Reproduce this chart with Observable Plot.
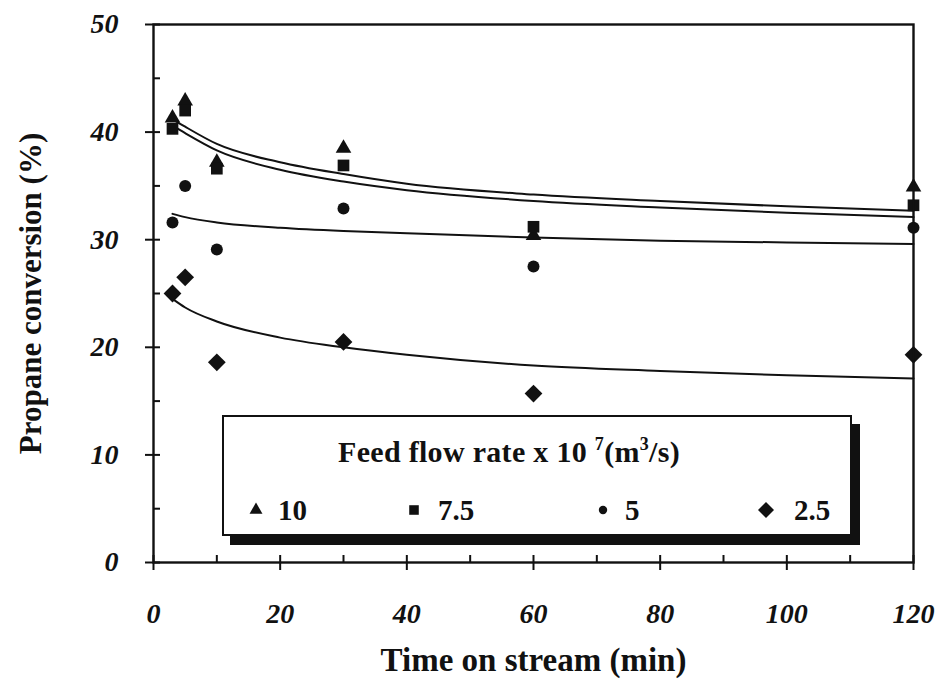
<!DOCTYPE html>
<html>
<head>
<meta charset="utf-8">
<script src="https://cdn.jsdelivr.net/npm/d3@7"></script>
<script src="https://cdn.jsdelivr.net/npm/@observablehq/plot@0.6"></script>
<style>
  body { margin: 0; background: #fff; }
  #wrap { position: relative; width: 942px; height: 690px; font-family: "Liberation Serif", "Times New Roman", serif; color: #111; }
  #legend { position: absolute; left: 222px; top: 415px; width: 630px; height: 121px; box-sizing: border-box;
            border: 2.5px solid #111; background: #fff; box-shadow: 8px 9px 0 #111; }
  #legend .title { position: absolute; left: 285px; top: 35px; transform: translate(-50%, -50%); white-space: nowrap;
                   font-size: 30px; font-weight: bold; letter-spacing: 0.3px; }
  #legend .title sup { font-size: 18px; vertical-align: 0; position: relative; top: -12px; }
  #legend .lab { position: absolute; top: 93px; transform: translateY(-50%); font-size: 29px; font-weight: bold; white-space: nowrap; }
  #legend svg { position: absolute; left: 0; top: 0; overflow: visible; }
</style>
</head>
<body>
<div id="wrap"></div>
<script>
// ---- data ----
const seriesKeys = ["10", "7.5", "5", "2.5"];             // feed flow rate x 10^7 (m3/s)
const times = [3, 5, 10, 30, 60, 120];                     // min
const conv10 = [41.3, 42.9, 37.2, 38.5, 30.4, 34.9];
const conv75 = [40.3, 42.0, 36.6, 36.9, 31.2, 33.2];
const conv5  = [31.6, 35.0, 29.1, 32.9, 27.5, 31.1];
const conv25 = [25.0, 26.5, 18.6, 20.5, 15.7, 19.3];
// fitted curves
const fitTimes = [3, 5, 10, 20, 30, 40, 60, 80, 100, 120];
const fit10 = [41.2, 40.5, 38.9, 37.2, 36.1, 35.2, 34.2, 33.6, 33.1, 32.7];
const fit75 = [40.6, 39.9, 38.3, 36.5, 35.4, 34.6, 33.6, 33.0, 32.5, 32.1];
const fit5  = [32.4, 32.1, 31.6, 31.1, 30.8, 30.6, 30.2, 29.9, 29.75, 29.6];
const fit25 = [24.5, 23.7, 22.4, 20.9, 20.0, 19.3, 18.3, 17.8, 17.4, 17.1];
const xTicks = [0, 20, 40, 60, 80, 100, 120];
const xMinor = [10, 30, 50, 70, 90, 110];
const yTicks = [0, 10, 20, 30, 40, 50];
const yMinor = [5, 15, 25, 35, 45];
const xTitle = "Time on stream (min)";
const yTitle = "Propane conversion (%)";

// ---- build rows ----
const symbols = ["triangle", "square", "circle", "diamond2"];
const radii = [5.8, 6.6, 6.0, 8.0];
const convs = [conv10, conv75, conv5, conv25];
const fits = [fit10, fit75, fit5, fit25];
const points = [], curves = [];
seriesKeys.forEach((k, i) => {
  times.forEach((t, j) => points.push({series: k, t, v: convs[i][j]}));
  fitTimes.forEach((t, j) => curves.push({series: k, t, v: fits[i][j]}));
});

const ink = "#111";
const font = {fontSize: 28, fontWeight: "bold", fontStyle: "italic"};

const plot = Plot.plot({
  width: 942, height: 690,
  marginLeft: 153, marginRight: 29, marginTop: 24, marginBottom: 128,
  x: {domain: [0, 120]},
  y: {domain: [0, 50]},
  symbol: {domain: seriesKeys, range: symbols},
  style: {fontFamily: '"Liberation Serif", "Times New Roman", serif', background: "#fff", color: ink, overflow: "visible"},
  marks: [
    Plot.line(curves, {x: "t", y: "v", z: "series", stroke: ink, strokeWidth: 2, curve: "monotone-x"}),
    ...seriesKeys.map((k, i) => Plot.dot(points.filter(d => d.series === k),
      {x: "t", y: "v", symbol: "series", r: radii[i], fill: ink, stroke: "none"})),
    Plot.frame({stroke: ink, strokeWidth: 2.4}),
    Plot.axisX(xTicks, {tickSize: 15, dy: -7, tickPadding: 33, strokeWidth: 2, ...font, tickFormat: d => String(d), label: null}),
    Plot.axisX(xMinor, {tickSize: 7, dy: -7, strokeWidth: 2, fill: "none", label: null}),
    Plot.axisY(yTicks, {tickSize: 15, dx: 7, tickPadding: 27, strokeWidth: 2, ...font, tickFormat: d => String(d), label: null}),
    Plot.axisY(yMinor, {tickSize: 7, dx: 7, strokeWidth: 2, fill: "none", label: null}),
    Plot.text([yTitle], {text: d => d, frameAnchor: "left", textAnchor: "middle", dx: -122, rotate: -90, fontSize: 31, fontWeight: "bold", fill: ink, letterSpacing: 1}),
    Plot.text([xTitle], {text: d => d, frameAnchor: "bottom", dy: 108, fontSize: 33, fontWeight: "bold", fill: ink})
  ]
});
const wrap = document.getElementById("wrap");
wrap.appendChild(plot);

// ---- legend ----
const legend = document.createElement("div");
legend.id = "legend";
legend.innerHTML = '<div class="title">Feed flow rate x 10 <sup>7</sup>(m<sup>3</sup>/s)</div>';
wrap.appendChild(legend);
const symX = [32, 190, 379, 542];
const labX = [54, 214, 401, 570];
const legR = [4.8, 5.4, 4.2, 7.2];
const svg = d3.select(legend).append("svg").attr("width", 630).attr("height", 121);
const symMap = {triangle: d3.symbolTriangle, square: d3.symbolSquare, circle: d3.symbolCircle, diamond2: d3.symbolDiamond2};
seriesKeys.forEach((k, i) => {
  svg.append("path")
    .attr("d", d3.symbol(symMap[symbols[i]], Math.PI * legR[i] * legR[i])())
    .attr("transform", `translate(${symX[i]},${93})`)
    .attr("fill", ink);
  const lab = document.createElement("div");
  lab.className = "lab";
  lab.style.left = labX[i] + "px";
  lab.textContent = k;
  legend.appendChild(lab);
});
</script>
</body>
</html>
